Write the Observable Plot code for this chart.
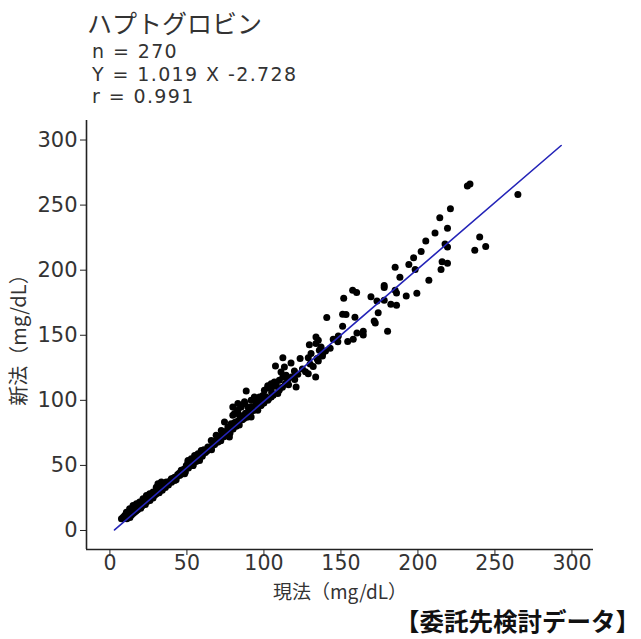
<!DOCTYPE html>
<html>
<head>
<meta charset="utf-8">
<script src="https://cdn.jsdelivr.net/npm/d3@7"></script>
<script src="https://cdn.jsdelivr.net/npm/@observablehq/plot@0.6"></script>
<style>
  html, body { margin: 0; padding: 0; background: #fff; }
  body { width: 641px; height: 639px; overflow: hidden; font-family: "Noto Sans CJK JP", "Noto Sans", sans-serif; color: #333; position: relative; }
  #head { position: relative; height: 110px; }
  #title { position: absolute; left: 87px; top: 7px; font-size: 25px; line-height: 30px; color: #333; }
  .stat { position: absolute; left: 92px; font-family: "DejaVu Sans", sans-serif; font-size: 19px; line-height: 22.5px; letter-spacing: 1.4px; color: #333; white-space: nowrap; }
  #caption { position: absolute; right: 1px; top: 603px; font-size: 24.5px; font-weight: bold; color: #111; line-height: 35px; white-space: nowrap; }
</style>
</head>
<body>
<div id="head">
  <div id="title"></div>
  <div class="stat" id="s1" style="top:40px"></div>
  <div class="stat" id="s2" style="top:62.5px"></div>
  <div class="stat" id="s3" style="top:85px"></div>
</div>
<div id="chart"></div>
<div id="caption"></div>
<script>
// ---- data ----
const titleText = "ハプトグロビン";
const statLines = ["n = 270", "Y = 1.019 X -2.728", "r = 0.991"];
const xLabel = "現法（mg/dL）";
const yLabel = "新法（mg/dL）";
const captionText = "【委託先検討データ】";
const xTicks = [0, 50, 100, 150, 200, 250, 300];
const yTicks = [0, 50, 100, 150, 200, 250, 300];
const xDomain = [-15.2, 314];
const yDomain = [-14.6, 315];

// current method (x) values
const currentX = [
  232.1,233.8,264.9,221.1,214.2,219.2,211.1,205.1,202.1,217.6,219.2,240.1,236.9,244.0,197.2,194.1,185.2,215.7,219.2,215.0,
  198.2,188.3,207.1,178.1,178.1,185.2,186.1,192.4,199.3,157.6,160.2,151.8,169.5,173.4,178.1,182.4,186.1,174.2,159.1,171.6,
  172.3,180.3,151.1,153.3,151.1,160.4,164.5,164.5,154.4,158.0,140.8,148.3,133.8,135.3,133.8,129.5,137.1,136.0,138.2,130.6,
  128.8,123.5,134.5,135.3,112.3,117.6,107.5,113.3,119.8,128.8,133.6,111.1,112.3,110.0,114.4,115.5,120.9,106.8,107.9,104.7,
  102.5,100.3,99.3,97.1,88.5,93.8,91.7,94.9,87.4,85.2,83.1,89.6,80.9,91.7,102.5,104.7,102.5,104.7,109.0,98.2,
  96.0,84.1,79.8,88.5,91.7,82.0,78.7,74.4,76.6,72.3,69.0,73.4,77.6,70.1,65.8,66.9,63.6,59.3,57.2,55.0,
  61.4,52.8,50.7,53.9,58.2,50.7,49.6,46.3,48.5,45.2,43.1,39.9,42.0,36.6,33.4,31.2,30.1,34.5,28.0,25.8,
  23.7,21.5,24.8,19.3,17.2,15.0,18.3,12.8,13.9,10.7,9.6,8.6,7.5,79.8,83.1,87.4,
  11,12,13,14,15,16,16,17,18,19,20,20,21,22,23,24,25,26,27,28,
  29,30,31,32,33,34,35,36,37,38,39,40,41,42,43,44,45,46,47,48,
  49,50,51,52,53,54,55,56,57,58,59,60,61,62,63,64,65,66,67,68,
  69,70,71,72,73,74,75,76,77,78,79,80,81,82,83,84,85,86,87,88,
  89,90,91,92,93,94,95,96,97,98,99,100,101,103,105,106,108,110,112,114,
  116,118,120,122,125,127,130,132,135,138,140,143,145,148
];
// new method (y) values
const newY = [
  264.6,266.2,258.2,247.2,240.2,232.3,228.5,222.5,214.4,220.2,217.9,225.4,215.4,218.2,209.5,204.4,202.3,206.4,205.4,200.5,
  200.5,194.6,192.3,188.2,186.7,184.6,182.5,180.2,182.3,184.6,182.8,178.5,179.5,176.4,176.9,173.8,173.1,167.2,163.8,161.0,
  159.5,153.1,166.2,165.9,156.9,151.8,153.1,150.2,145.2,146.9,163.6,149.5,148.7,146.2,143.6,142.8,141.0,138.5,135.9,135.9,
  132.8,132.1,132.1,130.2,132.8,128.7,126.4,125.6,122.5,120.5,117.9,121.8,117.9,115.4,119.2,115.9,110.2,114.1,110.8,109.0,
  109.8,107.7,103.8,102.5,107.2,102.5,100.0,98.7,97.5,94.8,92.3,94.8,89.8,92.3,100.0,102.5,111.3,112.8,105.2,96.2,
  92.3,88.5,88.5,89.8,87.2,83.3,82.1,83.3,79.5,76.9,73.1,73.1,71.8,67.9,69.2,65.4,64.1,61.5,59.0,57.7,
  60.2,55.2,52.5,50.0,53.8,53.8,50.0,46.2,43.6,42.3,41.0,39.8,38.5,37.2,37.2,35.9,33.3,33.3,29.5,28.2,
  26.9,24.4,23.1,21.8,20.5,19.2,17.9,16.7,14.1,14.1,11.5,10.2,9.0,94.8,97.5,99.0,
  9,11,10,12,13,14,16,15,16,18,17,20,19,21,20,22,24,23,26,25,
  27,28,30,29,32,31,34,33,36,35,38,37,40,41,39,43,44,43,46,47,
  45,49,48,51,52,50,55,53,56,55,58,57,62,60,61,63,64,62,67,66,
  69,68,71,69,74,72,76,73,77,75,80,78,83,80,84,81,88,85,86,90,
  87,91,89,95,92,93,97,94,99,96,101,98,103,101,106,104,112,108,110,113,
  112,118,116,120,124,122,128,126,131,134,138,140,147,145
];
// regression line end points (as drawn)
const fitX = [3, 293];
const fitY = [0.4, 295.8];

// ---- build ----
document.getElementById("title").textContent = titleText;
document.getElementById("s1").textContent = statLines[0];
document.getElementById("s2").textContent = statLines[1];
document.getElementById("s3").textContent = statLines[2];
document.getElementById("caption").textContent = captionText;

const points = currentX.map((x, i) => ({x, y: newY[i]}));
const fit = fitX.map((x, i) => ({x, y: fitY[i]}));

const axisColor = "#222";
const tickFont = "'DejaVu Sans', sans-serif";
const plot = Plot.plot({
  width: 641,
  height: 494,
  marginTop: 10,
  marginBottom: 55,
  marginLeft: 86,
  marginRight: 48,
  style: {fontFamily: "'Noto Sans CJK JP', 'Noto Sans', sans-serif", color: "#333", background: "transparent"},
  x: {domain: xDomain},
  y: {domain: yDomain},
  marks: [
    Plot.ruleX([xDomain[0]], {stroke: axisColor, strokeWidth: 1.6}),
    Plot.ruleY([yDomain[0]], {stroke: axisColor, strokeWidth: 1.6}),
    Plot.axisX({ticks: xTicks, tickSize: 6, tickPadding: 0, fontSize: 20.5, fontFamily: tickFont, stroke: axisColor,
      label: null, tickFormat: d => String(d)}),
    Plot.axisX({ticks: [], label: xLabel, labelAnchor: "center", labelOffset: 49, labelArrow: "none", fontSize: 19}),
    Plot.axisY({ticks: yTicks, tickSize: 6, tickPadding: 3, fontSize: 21, fontFamily: tickFont, stroke: axisColor,
      label: null, tickFormat: d => String(d)}),
    Plot.axisY({ticks: [], label: yLabel, labelAnchor: "center", labelOffset: 75, labelArrow: "none", fontSize: 20}),
    Plot.dot(points, {x: "x", y: "y", r: 3.5, fill: "#000", stroke: "none"}),
    Plot.line(fit, {x: "x", y: "y", stroke: "#2424b8", strokeWidth: 1.6})
  ]
});
document.getElementById("chart").appendChild(plot);
</script>
</body>
</html>
